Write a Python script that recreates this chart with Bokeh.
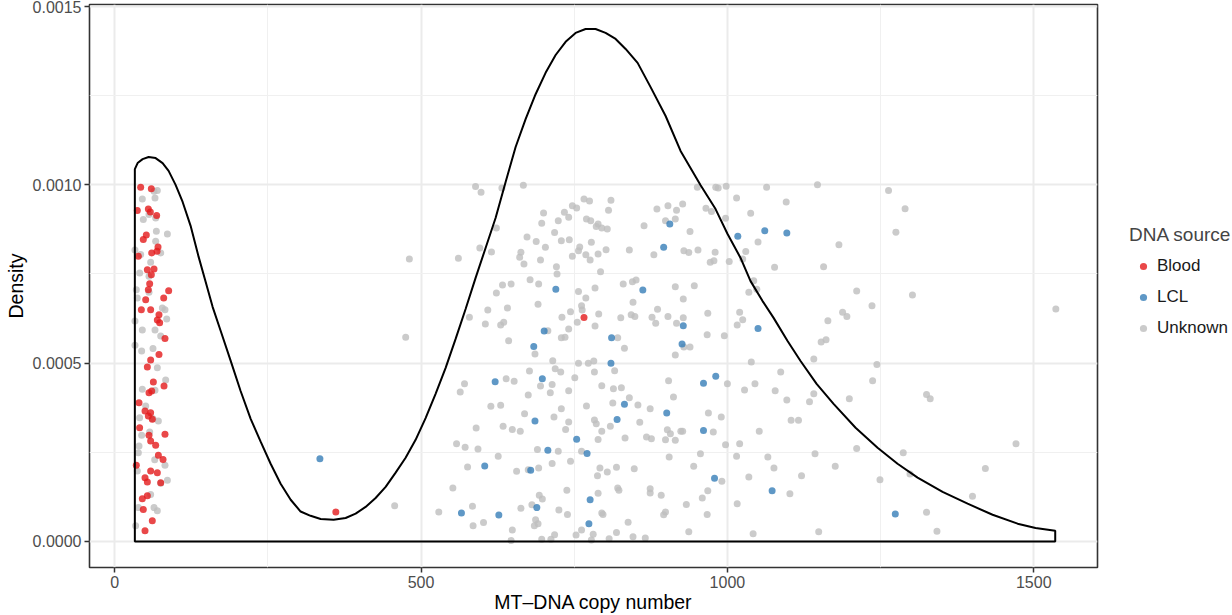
from bokeh.plotting import figure
from bokeh.layouts import row
from bokeh.models import FixedTicker, Legend, LegendItem, Range1d, PrintfTickFormatter
from bokeh.embed import file_html
from bokeh.resources import INLINE

SCALE = 1e-4  # y values below are in units of 1e-4 density

# ---------------- data ----------------
blood_x = [42.5, 59.9, 37.0, 55.0, 58.3, 68.6, 51.7, 46.8, 70.8, 60.5, 69.2, 38.7, 64.3, 53.4, 59.9,
           57.2, 55.0, 88.2, 80.1, 50.7, 58.8, 43.6, 72.4, 69.7, 73.5, 82.2, 72.4,
           58.8, 53.4, 63.2, 80.6, 56.1, 60.5, 39.8, 49.6, 58.8, 55.0, 61.5, 40.8, 56.1, 82.2, 58.8,
           67.0, 71.4, 79.0, 35.4, 58.8, 69.7, 49.6, 53.4, 75.2, 45.2, 53.4, 46.8, 61.5, 49.6,
           766, 361]
blood_y = [9.93, 9.89, 9.28, 9.32, 9.24, 9.14, 8.59, 8.47, 8.26, 8.09, 8.14, 8.00, 7.64, 7.62, 7.48,
           7.23, 7.06, 7.03, 6.83, 6.78, 6.50, 6.50, 6.36, 6.21, 6.13, 5.69, 5.24,
           5.09, 4.89, 4.47, 4.36, 4.17, 4.22, 3.89, 3.66, 3.61, 3.52, 3.43, 3.19, 2.98, 3.01, 2.82,
           2.70, 2.42, 2.30, 2.14, 1.98, 1.93, 1.79, 1.67, 1.65, 1.20, 1.28, 0.90, 0.58, 0.30,
           6.28, 0.83]

lcl_x = [720, 701, 684, 811, 810,
         621, 698, 686, 707, 754, 771, 604, 679, 566, 627, 689, 776, 774,
         906, 896, 1017, 1061, 1097, 862, 928, 926, 1050,
         981, 961, 832, 820, 901, 961, 979, 1073,
         1274, 335]
lcl_y = [7.07, 5.90, 5.47, 5.71, 5.00,
         4.48, 4.56, 3.38, 2.56, 2.87, 2.47, 2.12, 2.00, 0.80, 0.74, 0.95, 1.17, 0.50,
         8.90, 8.25, 8.56, 8.71, 8.65, 7.05, 6.05, 5.54, 5.97,
         4.63, 4.44, 3.85, 3.42, 3.60, 3.11, 1.77, 1.42,
         0.77, 2.32]

unk_x = [
    # blood column
    45.2, 64.3, 69.7, 65.9, 46.8, 67.0, 56.1, 86.1, 68.1, 67.0, 33.2, 42.5, 75.2, 58.8, 56.1,
    40.9, 35.4, 56.1, 37.0, 77.9, 82.2, 85.0, 33.2, 45.2, 65.9, 75.2, 33.2, 44.1, 62.6,
    69.7, 83.3, 45.2, 65.9, 50.7, 40.8, 62.6, 71.4, 44.1, 57.2, 39.8, 38.7, 65.4, 82.2, 37.0,
    75.2, 86.1, 58.8, 38.7, 64.3, 69.7, 34.3,
    # main cloud, upper left
    589, 598, 632, 667, 623, 596, 615, 481, 561, 475, 579, 609, 605, 630, 635, 641, 643, 623,
    633, 647, 678, 692, 691, 686, 715, 673, 688, 703, 663, 661, 668, 695, 700, 697, 718, 724,
    729, 742, 734, 741, 747, 754, 766, 775, 810, 806, 770, 777, 789, 795, 804, 786, 778, 759,
    757, 747, 769, 776, 789, 802, 793, 721, 722, 757, 784, 769, 762, 763, 744, 730, 755, 790,
    784, 707, 741, 735, 729, 757, 773, 782,
    # main cloud, lower left
    719, 728, 751, 783, 795, 770, 783, 786, 795, 809, 789, 741, 711, 714, 695, 675, 677, 652,
    639, 571, 564, 614, 630, 669, 717, 729, 741, 736, 634, 649, 662, 590, 558, 572, 593, 626,
    690, 724, 744, 762, 714, 692, 675, 656, 576, 792, 788, 804, 552, 584, 457, 529, 585, 602,
    649, 647, 663, 681, 693, 698, 687, 685, 691, 697, 712, 718, 725, 739, 738, 789, 795, 797,
    762, 753, 781, 778, 807,
    # main cloud, upper right
    885, 903, 927, 917, 915, 899, 864, 939, 965, 974, 951, 981, 985, 998, 1015, 1064, 1096,
    1147, 1038, 997, 840, 880, 929, 937, 952, 980, 972, 978, 1003, 1030, 1025, 1050, 1077,
    1157, 1182, 830, 845, 851, 915, 946, 928, 846, 886, 843, 849, 826, 877, 883, 903, 917,
    928, 968, 1020, 1025, 1016, 1043, 1035, 1048, 967, 995, 832, 821, 929, 939, 915, 1141,
    1153, 1161, 1188, 1195, 1164,
    # right tail
    1263, 1290, 1275, 1211, 1302, 1236, 1536, 1244, 1237, 1325, 1331, 1211, 1287, 1298, 1249,
    1421, 1471, 1400, 1325, 1342,
    # main cloud, lower right
    816, 814, 827, 840, 813, 854, 874, 912, 904, 857, 833, 868, 876, 899, 915, 902, 907, 924,
    927, 969, 990, 977, 1000, 1028, 1045, 1039, 1087, 1078, 1097, 1134, 1141, 1104, 1116, 1199,
    1052, 997, 1020, 1015, 956, 905, 945, 819, 848, 821, 823, 874, 874, 892, 933, 959, 968,
    991, 1035, 1066, 1076, 1121, 1143, 1176, 1102, 1016, 967, 899, 896, 838, 819, 846, 866,
    937, 1042, 1149]
unk_y = [
    9.60, 9.82, 9.84, 9.63, 9.03, 9.07, 9.17, 8.62, 8.70, 8.42, 8.17, 8.05, 8.09, 7.83, 7.44,
    7.53, 7.06, 6.99, 6.83, 6.55, 6.50, 6.24, 6.18, 5.93, 5.93, 5.76, 5.50, 5.34, 5.41,
    4.87, 4.53, 4.27, 4.24, 3.80, 3.47, 3.44, 3.38, 2.98, 3.07, 2.68, 2.49, 2.29, 2.14, 1.98,
    1.63, 1.72, 1.32, 0.95, 0.95, 0.86, 0.44,
    9.95, 9.79, 9.91, 9.99, 8.79, 8.23, 8.12, 7.92, 7.94, 5.73, 6.29, 6.49, 6.10, 6.07, 6.15, 6.55, 5.63, 6.97,
    7.19, 7.22, 7.34, 7.22, 6.65, 5.26, 5.07, 8.54, 8.41, 8.25, 8.11, 7.97, 7.78, 7.89, 9.21, 8.92, 8.66, 8.99,
    8.43, 8.46, 9.23, 9.09, 9.41, 9.35, 9.60, 9.55, 9.57, 9.29, 9.04, 8.99, 8.90, 8.79, 8.76, 8.83, 8.39, 8.26,
    8.15, 8.00, 8.04, 7.89, 8.06, 8.18, 7.56, 7.70, 7.50, 7.01, 7.11, 6.83, 6.61, 6.49, 6.44, 6.29, 6.15, 6.38,
    6.04, 5.91, 5.96, 5.73, 5.71, 5.00, 5.00, 5.06,
    4.84, 4.75, 4.59, 4.75, 4.37, 3.80, 3.41, 3.30, 3.09, 3.23, 2.86, 4.23, 4.17, 4.40, 4.36, 4.11, 4.78, 4.49,
    4.56, 4.42, 4.19, 3.79, 3.82, 3.58, 3.49, 3.72, 3.35, 3.14, 3.23, 3.14, 3.09, 3.18, 2.74, 2.64, 2.59, 2.39,
    2.58, 2.53, 2.25, 2.53, 2.19, 2.06, 2.01, 1.97, 2.09, 2.06, 1.84, 1.95, 1.50, 0.99, 1.00, 0.83, 0.44, 0.53,
    0.32, 0.03, 0.93, 1.03, 1.30, 1.19, 0.61, 0.44, 0.50, 0.06, 0.06, 0.19, 0.88, 0.76, 1.44, 1.35, 0.80, 0.76,
    0.32, 0.18, 0.20, 0.04, 0.08,
    9.32, 9.41, 9.46, 9.29, 9.04, 8.99, 8.85, 8.69, 9.34, 9.25, 9.93, 9.93, 9.91, 9.96, 9.63, 9.93, 9.52,
    10.0, 9.20, 9.06, 8.17, 8.04, 8.15, 8.10, 8.17, 8.11, 7.83, 7.87, 7.85, 8.13, 7.92, 8.40, 7.69,
    7.70, 8.32, 7.22, 7.28, 7.33, 7.14, 7.17, 6.80, 6.71, 6.51, 6.36, 6.31, 6.27, 6.29, 6.12, 6.31, 6.12,
    6.27, 6.40, 6.43, 6.22, 6.07, 7.31, 6.99, 7.07, 5.80, 5.77, 5.42, 5.71, 5.45, 5.45, 5.23, 5.12,
    5.59, 5.66, 6.43, 6.31, 6.19,
    9.84, 9.33, 8.67, 7.02, 6.91, 6.61, 6.52, 4.96, 4.51, 4.12, 4.00, 2.61, 2.49, 1.89, 1.73,
    2.05, 2.74, 1.27, 0.82, 0.29,
    4.79, 4.28, 4.31, 4.03, 3.88, 3.83, 3.72, 4.05, 4.51, 3.34, 2.90, 2.93, 2.88, 2.85, 2.84, 3.13, 3.02, 3.09,
    3.09, 3.60, 3.49, 3.07, 4.42, 4.25, 4.42, 5.03, 4.75, 4.23, 3.97, 3.92, 4.14, 3.40, 3.40, 4.00,
    3.09, 2.71, 2.74, 2.39, 2.46, 2.37, 2.11, 2.08, 2.04, 1.50, 1.44, 1.48, 1.36, 1.30, 1.04, 1.22, 1.42,
    1.69, 1.81, 2.37, 2.06, 1.84, 2.46, 2.11, 1.34, 1.06, 0.76, 0.83, 0.75, 0.54, 0.25, 0.13, 0.10,
    0.27, 0.22, 0.27]

# density curve of copy number, y in 1e-4 units
dens_x = [33, 37.5, 45.7, 55.5, 66.9, 78.3, 88.1, 99.5, 111.0, 124.0, 137.1, 148.5, 159.9, 173.0,
          189.3, 205.6, 222.0, 238.3, 254.6, 270.9, 287.3, 303.5, 319.8, 336.2, 357.4, 377.0, 393.3,
          409.6, 425.9, 442.3, 458.6, 474.9, 491.2, 507.5, 523.8, 540.2, 556.5, 572.8, 589.1, 605.4,
          621.7, 638.1, 654.4, 670.7, 687.0, 703.3, 719.7, 736.0, 752.3, 768.6, 784.9, 801.2, 817.6,
          833.9, 853.5, 874.7, 899.2, 923.6, 956.3, 980.7, 1000.3, 1021.5, 1037.8, 1057.4, 1075.4,
          1098.2, 1119.4, 1145.6, 1173.3, 1209.2, 1245.1, 1277.7, 1310.4, 1351.2, 1392.0, 1432.8,
          1473.6, 1502.9, 1535]
dens_y = [10.44, 10.61, 10.72, 10.78, 10.75, 10.61, 10.39, 10.00, 9.52, 8.85, 7.98, 7.28, 6.58, 5.91,
          5.07, 4.22, 3.44, 2.80, 2.18, 1.62, 1.17, 0.84, 0.72, 0.63, 0.61, 0.66, 0.78,
          0.97, 1.22, 1.53, 1.93, 2.35, 2.85, 3.46, 4.14, 4.87, 5.68, 6.52, 7.39, 8.23,
          9.07, 10.08, 11.06, 11.84, 12.54, 13.14, 13.64, 14.01, 14.26, 14.37, 14.37, 14.26, 14.09,
          13.81, 13.42, 12.74, 11.93, 10.95, 9.99, 9.32, 8.62, 7.95, 7.30, 6.74, 6.27,
          5.62, 5.06, 4.42, 3.86, 3.19, 2.63, 2.18, 1.79, 1.39, 1.06, 0.75,
          0.50, 0.38, 0.30]

x_ticks = [0, 500, 1000, 1500]
x_minor = [250, 750, 1250]
y_ticks = [0.0, 0.0005, 0.0010, 0.0015]
y_minor = [0.00025, 0.00075, 0.00125]

series = [("Blood", "#E41A1C", blood_x, blood_y),
          ("LCL", "#377EB8", lcl_x, lcl_y),
          ("Unknown", "#BEBEBE", unk_x, unk_y)]

FONT = "Liberation Sans"

# ---------------- main panel ----------------
p = figure(width=1100, height=615, output_backend="svg", toolbar_location=None,
           x_range=Range1d(-41, 1604), y_range=Range1d(-0.0000729, 0.0015056),
           min_border_left=89, min_border_right=3, min_border_top=4, min_border_bottom=48)

p.background_fill_color = "white"
p.border_fill_color = "white"
p.outline_line_color = "#333333"
p.outline_line_width = 1.6

for name, color, xs, ys in reversed(series):
    p.scatter([float(v) for v in xs], [v * SCALE for v in ys], size=7,
              fill_color=color, fill_alpha=0.8, line_color=None)

# density polygon outline
px_ = [dens_x[0]] + dens_x + [dens_x[-1]]
py_ = [0.0] + [v * SCALE for v in dens_y] + [0.0]
p.patch(px_, py_, fill_color=None, line_color="black", line_width=2)

p.xaxis.ticker = FixedTicker(ticks=x_ticks, minor_ticks=x_minor)
p.yaxis.ticker = FixedTicker(ticks=y_ticks, minor_ticks=y_minor)
p.yaxis.formatter = PrintfTickFormatter(format="%.4f")
for ax in (p.xaxis[0], p.yaxis[0]):
    ax.axis_line_color = None
    ax.major_tick_line_color = "#333333"
    ax.major_tick_line_width = 1.5
    ax.major_tick_out = 5
    ax.major_tick_in = 0
    ax.minor_tick_line_color = None
    ax.major_label_text_font = FONT
    ax.major_label_text_font_size = "16px"
    ax.major_label_text_color = "#4D4D4D"
    ax.axis_label_text_font = FONT
    ax.axis_label_text_font_size = "19.5px"
    ax.axis_label_text_font_style = "normal"
    ax.axis_label_text_color = "black"
p.xaxis.major_label_standoff = 3
p.yaxis.major_label_standoff = 3
p.xaxis.axis_label_standoff = 0
p.yaxis.axis_label_standoff = 3
p.xaxis.axis_label = "MT\u2013DNA copy number"
p.yaxis.axis_label = "Density"

for g in (p.xgrid[0], p.ygrid[0]):
    g.grid_line_color = "#EBEBEB"
    g.grid_line_width = 2
    g.minor_grid_line_color = "#F0F0F0"
    g.minor_grid_line_width = 1

# ---------------- legend panel ----------------
lg = figure(width=132, height=615, output_backend="svg", toolbar_location=None,
            x_axis_location=None, y_axis_location=None, min_border=0,
            x_range=Range1d(0, 1), y_range=Range1d(0, 1))
lg.outline_line_color = None
lg.background_fill_color = "white"
lg.border_fill_color = "white"
lg.grid.visible = False

items = []
for name, color, _, _ in series:
    # key marker only: its single point lies outside this panel's visible range
    r = lg.scatter([-5.0], [-5.0], size=7, fill_color=color, fill_alpha=0.8, line_color=None)
    items.append(LegendItem(label=name, renderers=[r]))

legend = Legend(items=items, location=(29, 229), title="DNA source",
                title_text_font=FONT, title_text_font_size="19px", title_text_font_style="normal",
                title_standoff=10,
                label_text_font=FONT, label_text_font_size="17px", label_text_color="#1A1A1A",
                label_standoff=0, glyph_width=28, glyph_height=18, label_height=18, spacing=11,
                padding=0, margin=0, border_line_color=None, background_fill_alpha=0)
lg.add_layout(legend, "center")

layout = row(p, lg)
open("out.html", "w").write(file_html(layout, INLINE))
